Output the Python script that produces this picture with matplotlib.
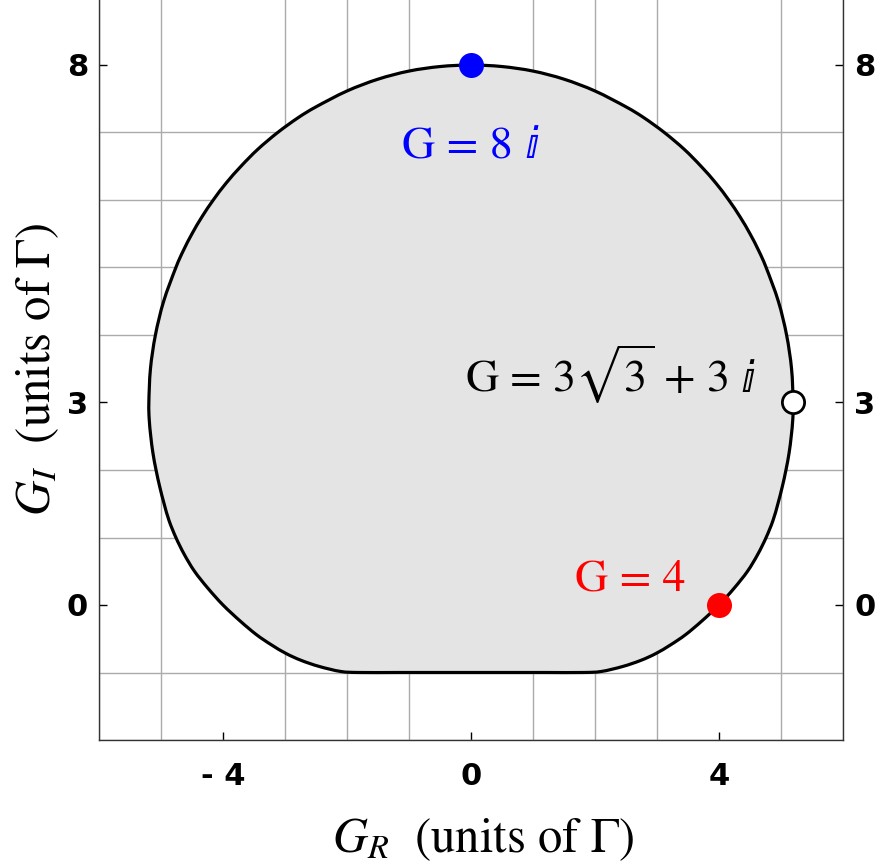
import matplotlib
matplotlib.use("Agg")
import matplotlib.pyplot as plt
from matplotlib.path import Path
from matplotlib.patches import PathPatch
from matplotlib.transforms import IdentityTransform
import numpy as np

# Boundary of the shaded region (right half; the shape is mirror-symmetric)
right_x = [0.0, 0.6, 1.2, 1.8, 2.1, 2.45, 2.74, 2.98, 3.22, 3.46, 3.72, 4.0, 4.245, 4.46,
           4.625, 4.76, 4.87, 4.95, 5.02, 5.08, 5.13, 5.165, 5.19, 5.196, 5.17, 5.09,
           4.957, 4.76, 4.64, 4.50, 4.34, 4.157, 3.95, 3.71, 3.44, 3.118, 2.787, 2.5,
           2.0, 1.5, 1.0, 0.5, 0.0]
right_y = [-1.0, -1.0, -1.0, -1.0, -0.985, -0.91, -0.82, -0.72, -0.59, -0.44, -0.24, 0.0,
           0.25, 0.5, 0.75, 1.0, 1.25, 1.5, 1.75, 2.0, 2.25, 2.5, 2.75, 3.0, 3.5, 4.0,
           4.5, 5.0, 5.25, 5.5, 5.75, 6.0, 6.25, 6.5, 6.75, 7.0, 7.22, 7.38, 7.615,
           7.79, 7.91, 7.977, 8.0]

# Marked points
pt_x = [0.0, 3 * np.sqrt(3), 4.0]
pt_y = [8.0, 3.0, 0.0]
pt_face = ["#0000ff", "white", "#ff0000"]
pt_edge = ["#0000ff", "black", "#ff0000"]

labels = ["G = 8", r"G = 3$\sqrt{3}$ + 3", "G = 4"]
label_suffix = ["ⅈ", "ⅈ", ""]
label_colors = ["#0000ff", "black", "#ff0000"]
label_x = [-1.12, -0.10, 1.68]
label_y = [6.62, 3.16, 0.22]

xticks = [-4, 0, 4]
xtick_labels = ["- 4", "0", "4"]
yticks = [0, 3, 8]
ytick_labels = ["0", "3", "8"]

plt.rcParams["mathtext.fontset"] = "stix"
serif = ["STIXGeneral", "DejaVu Serif", "DejaVu Sans"]

fig = plt.figure(figsize=(8.76, 8.63), dpi=100)
ax = fig.add_axes([99 / 876, (863 - 740) / 863, 744 / 876, (740 + 2.5) / 863])
ax.set_xlim(-6, 6)
ax.set_ylim(-2, 9)

# grid
ax.set_xticks(np.arange(-6, 7, 1), minor=True)
ax.set_yticks(np.arange(-2, 10, 1), minor=True)
ax.grid(True, which="minor", color="#ababab", linewidth=1.0, zorder=0)
ax.set_axisbelow(True)

# region: closed loop through the read points, drawn as a smooth Bezier path
bx = right_x + [-v for v in right_x[::-1][1:-1]]
by = right_y + right_y[::-1][1:-1]
P = np.column_stack([bx, by])
n = len(P)
verts = [P[0]]
codes = [Path.MOVETO]
for i in range(n):
    p0, p1, p2, p3 = P[i - 1], P[i], P[(i + 1) % n], P[(i + 2) % n]
    verts += [p1 + (p2 - p0) / 6.0, p2 - (p3 - p1) / 6.0, p2]
    codes += [Path.CURVE4] * 3
verts.append(P[0])
codes.append(Path.CLOSEPOLY)
patch = PathPatch(Path(verts, codes), facecolor="#e4e4e4", edgecolor="black",
                  linewidth=2.3, zorder=2)
ax.add_patch(patch)

for x, y, fc, ec in zip(pt_x, pt_y, pt_face, pt_edge):
    ax.plot([x], [y], marker="o", markersize=16, markerfacecolor=fc,
            markeredgecolor=ec, markeredgewidth=2.0, zorder=5, clip_on=False)

texts = []
for s, c, x, y in zip(labels, label_colors, label_x, label_y):
    texts.append(ax.text(x, y, s, color=c, fontsize=33, family=serif,
                         ha="left", va="baseline", zorder=6))

ax.set_xticks(xticks)
ax.set_xticklabels(xtick_labels)
ax.set_yticks(yticks)
ax.set_yticklabels(ytick_labels)
ax.tick_params(which="minor", length=0)
ax.tick_params(which="major", direction="in", length=6, width=1.0, labelsize=22,
               right=True, labelright=True, top=False)
ax.tick_params(axis="x", pad=16)
ax.tick_params(axis="y", pad=8)
for lab in ax.get_xticklabels() + ax.get_yticklabels():
    lab.set_fontweight("bold")
    lab.set_family("DejaVu Sans")

for s in ["left", "right", "bottom"]:
    ax.spines[s].set_linewidth(1.0)
    ax.spines[s].set_color("#333333")
ax.spines["top"].set_visible(False)

ax.set_xlabel(r"$G_R$  (units of $\Gamma$)", fontsize=35, family=serif)
ax.set_ylabel(r"$G_I$  (units of $\Gamma$)", fontsize=35, family=serif)
ax.xaxis.set_label_coords((483 - 99) / 744, -(852 - 740) / 742.5, transform=ax.transAxes)
ax.xaxis.label.set_va("baseline")
ax.yaxis.set_label_coords(-(99 - 50) / 744, (863 - 370 - 123) / 742.5,
                          transform=ax.transAxes)
ax.yaxis.label.set_va("baseline")

# attach the double-struck italic i after each label
fig.canvas.draw()
renderer = fig.canvas.get_renderer()
for t, suf, c, x, y in zip(texts, label_suffix, label_colors, label_x, label_y):
    if not suf:
        continue
    bb = t.get_window_extent(renderer)
    base = ax.transData.transform((x, y))[1]
    fig.text(bb.x1 + 12, base, suf, color=c, fontsize=31,
             family=["DejaVu Sans"], ha="left", va="baseline",
             transform=IdentityTransform(), zorder=7)

fig.savefig("out.png", dpi=100)
